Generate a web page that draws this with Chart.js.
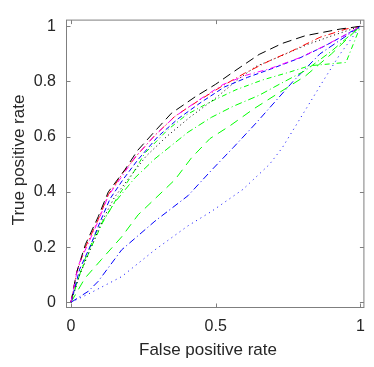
<!DOCTYPE html>
<html lang="en">
<head>
<meta charset="UTF-8" />
<title>ROC curves</title>
<script src="https://cdn.jsdelivr.net/npm/chart.js"></script>
<style>
  html, body { margin: 0; padding: 0; background: #fff; }
</style>
</head>
<body>
<canvas id="roc" width="374" height="367"></canvas>
<script>
// tick values
const xTicks = [0, 0.5, 1];
const yTicks = [0, 0.2, 0.4, 0.6, 0.8, 1];
const xLabel = 'False positive rate';
const yLabel = 'True positive rate';

// curves (false positive rate / true positive rate)
const fprBlackDash = [0, 0.02, 0.05, 0.094, 0.129, 0.186, 0.23, 0.29, 0.347, 0.43, 0.5, 0.56, 0.65, 0.73, 0.81, 0.93, 1];
const tprBlackDash = [0, 0.11, 0.21, 0.31, 0.40, 0.48, 0.55, 0.62, 0.685, 0.745, 0.79, 0.834, 0.898, 0.938, 0.966, 0.99, 1];

const fprRed = [0, 0.02, 0.05, 0.094, 0.129, 0.18, 0.23, 0.29, 0.36, 0.44, 0.525, 0.6, 0.686, 0.766, 0.86, 0.95, 1];
const tprRed = [0, 0.11, 0.2, 0.3, 0.39, 0.47, 0.535, 0.605, 0.675, 0.73, 0.785, 0.83, 0.875, 0.912, 0.96, 0.99, 1];

const fprBlackDot = [0, 0.03, 0.07, 0.11, 0.15, 0.2, 0.26, 0.33, 0.41, 0.5, 0.58, 0.64, 0.72, 0.82, 0.9, 1];
const tprBlackDot = [0, 0.1, 0.2, 0.3, 0.38, 0.45, 0.53, 0.6, 0.67, 0.74, 0.81, 0.855, 0.89, 0.935, 0.965, 1];

const fprBlue = [0, 0.03, 0.065, 0.1, 0.135, 0.18, 0.23, 0.3, 0.37, 0.45, 0.53, 0.61, 0.69, 0.79, 0.87, 0.95, 1];
const tprBlue = [0, 0.12, 0.2, 0.29, 0.375, 0.445, 0.515, 0.6, 0.665, 0.725, 0.78, 0.815, 0.845, 0.885, 0.925, 0.97, 1];

const fprMagenta = [0, 0.025, 0.06, 0.094, 0.129, 0.175, 0.22, 0.29, 0.359, 0.439, 0.525, 0.606, 0.686, 0.79, 0.87, 0.95, 1];
const tprMagenta = [0, 0.133, 0.214, 0.294, 0.386, 0.455, 0.524, 0.605, 0.673, 0.731, 0.789, 0.823, 0.846, 0.886, 0.926, 0.97, 1];

const fprGreenTop = [0, 0.03, 0.07, 0.11, 0.16, 0.21, 0.255, 0.334, 0.4, 0.479, 0.57, 0.66, 0.755, 0.824, 0.95, 1];
const tprGreenTop = [0, 0.1, 0.2, 0.29, 0.38, 0.46, 0.54, 0.625, 0.68, 0.725, 0.77, 0.805, 0.834, 0.857, 0.869, 1];

const fprGreenMid = [0, 0.02, 0.05, 0.09, 0.15, 0.22, 0.29, 0.404, 0.485, 0.56, 0.65, 0.72, 0.81, 0.9, 1];
const tprGreenMid = [0, 0.07, 0.16, 0.26, 0.36, 0.45, 0.52, 0.616, 0.67, 0.71, 0.75, 0.79, 0.84, 0.91, 1];

const fprGreenLow = [0, 0.048, 0.106, 0.175, 0.232, 0.29, 0.359, 0.416, 0.48, 0.55, 0.63, 0.72, 0.81, 0.9, 1];
const tprGreenLow = [0, 0.087, 0.156, 0.237, 0.317, 0.375, 0.444, 0.523, 0.593, 0.64, 0.7, 0.76, 0.82, 0.9, 1];

const fprBlueDashDot = [0, 0.06, 0.094, 0.175, 0.29, 0.404, 0.485, 0.56, 0.64, 0.767, 0.86, 0.93, 1];
const tprBlueDashDot = [0, 0.04, 0.076, 0.19, 0.294, 0.386, 0.478, 0.56, 0.65, 0.8, 0.9, 0.95, 1];

const fprBlueDot = [0, 0.06, 0.175, 0.29, 0.404, 0.485, 0.594, 0.686, 0.73, 0.8, 0.87, 0.93, 1];
const tprBlueDot = [0, 0.03, 0.093, 0.19, 0.277, 0.329, 0.409, 0.5, 0.56, 0.68, 0.8, 0.9, 1];

const fontFamily = "'Liberation Sans', Arial, Helvetica, sans-serif";
const textColor = '#262626';
const axisColor = '#7f7f7f';

function pts(xs, ys) {
  return xs.map((x, i) => ({ x: x, y: ys[i] }));
}

function line(xs, ys, color, dash) {
  return {
    data: pts(xs, ys),
    borderColor: color,
    borderWidth: 1,
    borderDash: dash,
    pointRadius: 0,
    tension: 0,
    fill: false
  };
}

// box + inward ticks on all four sides, plus the axis titles
const boxTicks = {
  id: 'boxTicks',
  afterDatasetsDraw(chart) {
    const { ctx, chartArea: a, scales: { x, y } } = chart;
    const L = a.left + 0.5, R = a.right - 0.5, T = a.top + 0.5, B = a.bottom - 0.5;
    const len = 4;
    ctx.save();
    ctx.strokeStyle = axisColor;
    ctx.lineWidth = 1;
    ctx.setLineDash([]);
    ctx.strokeRect(L, T, R - L, B - T);
    ctx.beginPath();
    xTicks.forEach(v => {
      const px = Math.round(x.getPixelForValue(v)) + 0.5;
      ctx.moveTo(px, B); ctx.lineTo(px, B - len);
      ctx.moveTo(px, T); ctx.lineTo(px, T + len);
    });
    yTicks.forEach(v => {
      const py = Math.round(y.getPixelForValue(v)) + 0.5;
      ctx.moveTo(L, py); ctx.lineTo(L + len, py);
      ctx.moveTo(R, py); ctx.lineTo(R - len, py);
    });
    ctx.stroke();

    ctx.fillStyle = textColor;
    ctx.font = '17px ' + fontFamily;
    ctx.textAlign = 'center';
    ctx.textBaseline = 'middle';
    ctx.fillText(xLabel, 208, 350);
    ctx.translate(19.5, 160);
    ctx.rotate(-Math.PI / 2);
    ctx.fillText(yLabel, 0, 0);
    ctx.restore();
  }
};

new Chart(document.getElementById('roc'), {
  type: 'line',
  data: {
    datasets: [
      line(fprMagenta, tprMagenta, '#ff00ff', [6, 3, 1, 3]),
      line(fprBlue, tprBlue, '#0000ff', [5, 3]),
      line(fprBlackDash, tprBlackDash, '#000000', [9, 5]),
      line(fprRed, tprRed, '#ff0000', [7, 3, 1, 3]),
      line(fprBlackDot, tprBlackDot, '#000000', [1, 3]),
      line(fprGreenTop, tprGreenTop, '#00ff00', [5, 3, 1, 3]),
      line(fprGreenMid, tprGreenMid, '#00ff00', [7, 3, 1, 3]),
      line(fprGreenLow, tprGreenLow, '#00ff00', [9, 6]),
      line(fprBlueDashDot, tprBlueDashDot, '#0000ff', [7, 3, 1, 3]),
      line(fprBlueDot, tprBlueDot, '#0000ff', [1, 4])
    ]
  },
  options: {
    responsive: false,
    animation: false,
    layout: { padding: { top: 5, right: 8, left: 0, bottom: 0 } },
    plugins: { legend: { display: false }, tooltip: { enabled: false } },
    scales: {
      x: {
        type: 'linear',
        min: -0.0172,
        max: 1.0137,
        grid: { display: false, drawTicks: false },
        border: { display: false },
        afterBuildTicks: s => { s.ticks = xTicks.map(v => ({ value: v })); },
        afterFit: s => { s.height = 59; },
        ticks: {
          padding: 9,
          color: textColor,
          maxRotation: 0,
          autoSkip: false,
          font: { family: fontFamily, size: 16 },
          callback: v => String(v)
        }
      },
      y: {
        type: 'linear',
        min: -0.0206,
        max: 1.0242,
        grid: { display: false, drawTicks: false },
        border: { display: false },
        afterBuildTicks: s => { s.ticks = yTicks.map(v => ({ value: v })); },
        afterFit: s => { s.width = 66; },
        ticks: {
          padding: 10,
          color: textColor,
          autoSkip: false,
          font: { family: fontFamily, size: 16 },
          callback: v => String(v)
        }
      }
    }
  },
  plugins: [boxTicks]
});
</script>
</body>
</html>
